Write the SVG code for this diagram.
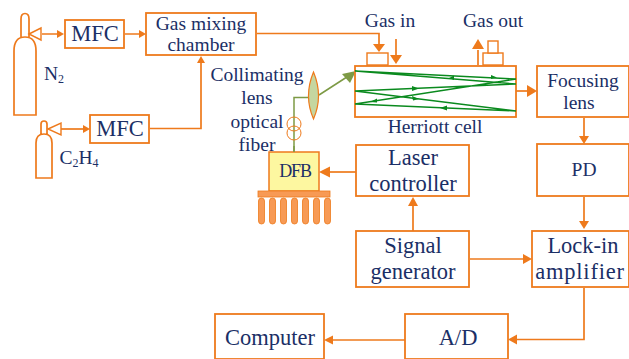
<svg xmlns="http://www.w3.org/2000/svg" width="629" height="359" viewBox="0 0 629 359">
<style>
.b{fill:#fff;stroke:#ee7a1c;stroke-width:1.8}
.c{fill:none;stroke:#ee7a1c;stroke-width:1.7}
.h{fill:#ee7a1c;stroke:none}
.o{fill:#fff;stroke:#ee7a1c;stroke-width:1.4}
.g{fill:none;stroke:#0a8a1e;stroke-width:1.4}
.a{fill:#0a8a1e}
text{font-family:"Liberation Serif","Times New Roman",serif;fill:#1b2f66;text-anchor:middle}
.s{font-size:19.5px}.m{font-size:19.5px}.l{font-size:22.5px}
</style>
<rect width="629" height="359" fill="#fff"/>
<g id="connectors">
<path class="c" d="M42 34H60M125 34H142"/><path class="h" d="M64 34l-7-4v8zM146 34l-7-4v8z"/>
<path class="c" d="M61 129H84"/><path class="h" d="M90 129l-7-4v8z"/>
<path class="c" d="M150 128.500H201V62"/><path class="h" d="M201 56l-4 7h8z"/>
<path class="c" d="M257 33.500H379V44"/><path class="h" d="M379 52l-6-8h12z"/>
<path class="c" d="M396 39V58"/><path class="h" d="M396 64l-6-9h12z"/>
<path class="c" d="M478 65V50"/><path class="h" d="M478 39l-6 10h12z"/>
<path class="c" d="M516 91H530"/><path class="h" d="M537 91l-10-6v12z"/>
<path class="c" d="M584 118V136"/><path class="h" d="M584 144l-5-8h10z"/>
<path class="c" d="M584 197V221"/><path class="h" d="M584 229l-5-8h10z"/>
<path class="c" d="M584 288V339.500H517"/><path class="h" d="M508 339.500l9-5v10z"/>
<path class="c" d="M405 340H332"/><path class="h" d="M324 340l9-4.500v9z"/>
<path class="c" d="M470 259H524"/><path class="h" d="M532 259l-9-5v10z"/>
<path class="c" d="M413 231V205"/><path class="h" d="M413 197l-5 9h10z"/>
<path class="c" d="M356 172H327"/><path class="h" d="M319 172l11-5.500v11z"/>
<path d="M294 152V97.500H310M319 95L350 75" fill="none" stroke="#7d9a45" stroke-width="1.500"/>
<path d="M356 71L342 74L350 83Z" fill="#7d9a45"/>
</g>
<g id="cylinder-n2"><path class="c" d="M21 37V19Q21 13.500 25 13.500T29 19V37M14 115V51Q14 37 25 37T36 51V115Z"/><path class="o" d="M29 34L41 28V40Z"/></g>
<g id="cylinder-c2h4"><path class="c" d="M41 134V124Q41 121 44 121T47 124V134M36 178V143Q36 134 44 134T52 143V178Z"/><path class="o" d="M48 129L61 123V135Z"/></g>
<g id="mfc1"><rect class="b" x="65" y="20" width="59" height="28"/><text class="l" x="95" y="41">MFC</text></g>
<g id="mfc2"><rect class="b" x="90" y="115" width="59" height="28"/><text class="l" x="120" y="136">MFC</text></g>
<g id="mixing"><rect class="b" x="146" y="13" width="110" height="42"/><text class="m" x="201" y="30">Gas mixing</text><text class="m" x="201" y="51">chamber</text></g>
<g id="labels">
<text class="s" x="54" y="80">N<tspan font-size="12" dy="3">2</tspan></text>
<text class="s" x="79" y="164">C<tspan font-size="12" dy="3">2</tspan><tspan dy="-3">H</tspan><tspan font-size="12" dy="3">4</tspan></text>
<text class="s" x="390" y="27">Gas in</text>
<text class="s" x="493" y="27">Gas out</text>
<text class="s" x="257" y="81">Collimating</text>
<text class="s" x="257" y="104">lens</text>
<text class="s" x="257" y="128">optical</text>
<text class="s" x="257" y="151">fiber</text>
<text class="s" x="435" y="133">Herriott cell</text>
</g>
<g id="lens"><path d="M313.500 72Q303.500 96 313.500 119Q323.500 96 313.500 72Z" fill="#c5d6a0" stroke="#ee7a1c" stroke-width="1.200"/></g>
<g id="fiber-coil"><circle cx="294" cy="124" r="7" fill="none" stroke="#ee7a1c"/><circle cx="294" cy="133" r="7" fill="none" stroke="#ee7a1c"/></g>
<g id="herriott-cell">
<rect class="o" x="367" y="53" width="21" height="12"/>
<rect class="o" x="483" y="53" width="20" height="12"/><rect class="o" x="488" y="41" width="10" height="12"/>
<rect class="b" x="355" y="66" width="161" height="51"/>
<path class="g" d="M355 71L516 79L355 104L516 111L355 91L516 84L355 71"/>
<path class="a" d="M497 77.500l-6-2.500v4zM449 78l5-2.500v4.500zM419 88.500l-7-2.500v5zM440 108l7-2.500v5zM419 99l-7-3 1 4.500zM370 102l7-3.500 0 4z"/>
</g>
<g id="focusing"><rect class="b" x="537" y="66" width="92" height="51"/><text class="m" x="583" y="87">Focusing</text><text class="m" x="579" y="109">lens</text></g>
<g id="pd"><rect class="b" x="537" y="144" width="92" height="52"/><text class="m" x="584" y="176">PD</text></g>
<g id="laser"><rect class="b" x="356" y="145" width="113" height="51"/><text class="l" x="413" y="165">Laser</text><text class="l" x="413" y="191">controller</text></g>
<g id="signal"><rect class="b" x="356" y="231" width="113" height="56"/><text class="l" x="413" y="253">Signal</text><text class="l" x="413" y="279">generator</text></g>
<g id="lockin"><rect class="b" x="532" y="231" width="97" height="56"/><text class="l" x="583" y="253">Lock-in</text><text class="l" x="580" y="279" letter-spacing=".8">amplifier</text></g>
<g id="ad"><rect class="b" x="405" y="314" width="103" height="45"/><text class="l" x="458" y="345">A/D</text></g>
<g id="computer"><rect class="b" x="215" y="314" width="109" height="45"/><text class="l" x="270" y="345">Computer</text></g>
<g id="dfb">
<rect x="269" y="152" width="50" height="39" fill="#fdf7a0" stroke="#ee7a1c" stroke-width="1.500"/>
<path d="M294 152V146" stroke="#7d9a45" stroke-width="1.500"/>
<text x="295" y="177" font-size="18" letter-spacing="-1.200">DFB</text>
<rect x="258" y="191" width="72" height="6" fill="#f79a55" stroke="#ee7a1c" stroke-width=".8"/>
<g fill="#f79a55" stroke="#ee7a1c" stroke-width=".8">
<rect x="258.500" y="198" width="6" height="26" rx="3"/><rect x="269.500" y="198" width="6" height="26" rx="3"/><rect x="280.500" y="198" width="6" height="26" rx="3"/><rect x="291.500" y="198" width="6" height="26" rx="3"/><rect x="302.500" y="198" width="6" height="26" rx="3"/><rect x="313.500" y="198" width="6" height="26" rx="3"/><rect x="324.500" y="198" width="6" height="26" rx="3"/>
</g></g>
</svg>
